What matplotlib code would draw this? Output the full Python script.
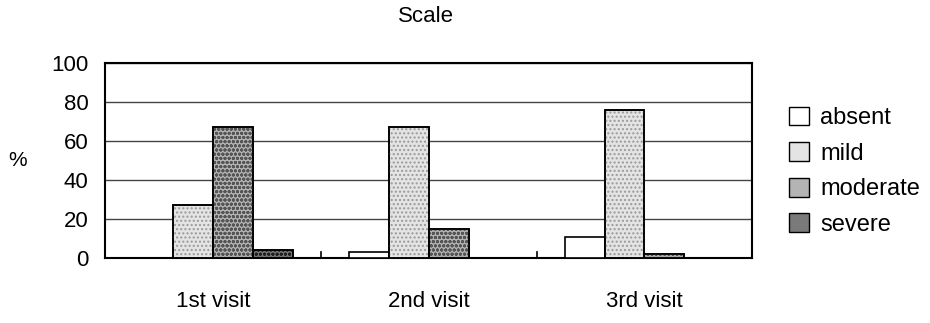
import matplotlib
matplotlib.use("Agg")
import matplotlib.pyplot as plt
import numpy as np
from matplotlib.patches import Patch

categories = ["1st visit", "2nd visit", "3rd visit"]
series_names = ["absent", "mild", "moderate", "severe"]
absent = [0, 3, 11]
mild = [27, 67, 76]
moderate = [67, 15, 2]
severe = [4, 0, 0]
yticks = [0, 20, 40, 60, 80, 100]

plt.rcParams['font.family'] = ['Liberation Sans', 'DejaVu Sans']

fig = plt.figure(figsize=(9.3, 3.23), dpi=100)
ax = fig.add_axes([0.113, 0.201, 0.696, 0.604])

faces = ["white", "#e4e4e4", "#b4b4b4", "#7a7a7a"]
hatch_cols = ["white", "#9a9a9a", "#555555", "#202020"]
hatches = [None, "....", "oooo", "oooo"]
data = [absent, mild, moderate, severe]
x = np.arange(len(categories))
w = 0.185
for i, (name, vals) in enumerate(zip(series_names, data)):
    pos = x + (i - 1.5) * w
    ax.bar(pos, vals, w, facecolor=faces[i], edgecolor="black",
           linewidth=1.2, label=name, zorder=3)
    if hatches[i]:
        ax.bar(pos, vals, w, facecolor="none", edgecolor=hatch_cols[i],
               hatch=hatches[i], linewidth=0, zorder=3)
        ax.bar(pos, vals, w, facecolor="none", edgecolor="black",
               linewidth=1.2, zorder=4)

ax.set_xlim(-0.5, 2.5)
ax.set_ylim(0, 100)
ax.set_yticks(yticks)
ax.tick_params(axis='y', length=0, labelsize=16, pad=12)
ax.set_xticks(x)
ax.set_xticklabels(categories, fontsize=16)
ax.tick_params(axis='x', length=0, pad=24)
for b in [0.5, 1.5]:
    ax.plot([b, b], [0, 3], color="black", lw=1.2, zorder=5)
ax.yaxis.grid(True, color="#444444", lw=1.0, zorder=0)
for s in ax.spines.values():
    s.set_linewidth(1.5)
ax.set_ylabel("%", rotation=0, fontsize=15, va="center", ha="center")
ax.yaxis.set_label_coords(-0.135, 0.5)
fig.text(0.458, 0.95, "Scale", ha="center", va="center", fontsize=16)

lh = []
for i in range(4):
    lh.append(Patch(facecolor=faces[i], edgecolor="black", label=series_names[i]))
fig.legend(handles=lh, loc="center left", bbox_to_anchor=(0.826, 0.47),
           frameon=False, fontsize=17, handlelength=0.85, handleheight=0.85,
           labelspacing=0.55, handletextpad=0.45)
fig.savefig("out.png", dpi=100, facecolor="white")
